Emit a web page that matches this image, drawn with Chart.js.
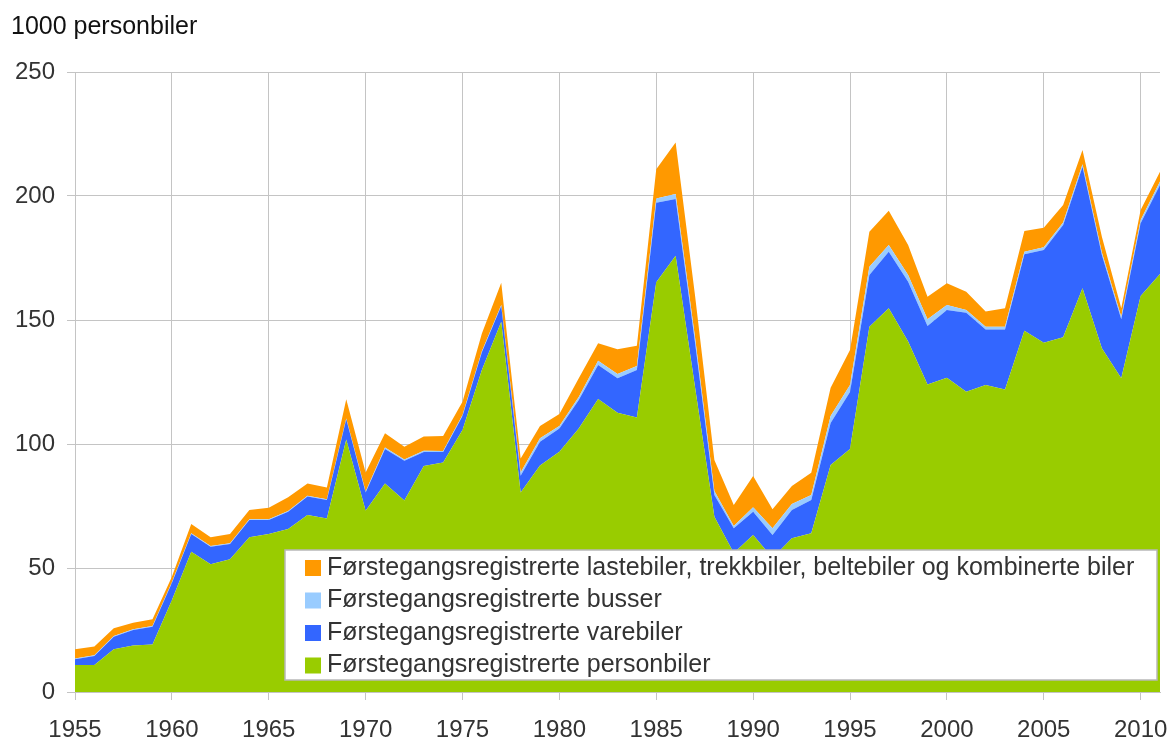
<!DOCTYPE html>
<html>
<head>
<meta charset="utf-8">
<title>Førstegangsregistrerte kjøretøy</title>
<script src="https://cdn.jsdelivr.net/npm/chart.js@4.4.1/dist/chart.umd.min.js"></script>
<style>
    body { margin: 0; background: #fff; }
    #wrap { width: 1169px; height: 738px; }
</style>
</head>
<body>
<div id="wrap"><canvas id="chart" width="1169" height="738"></canvas></div>
<script>
// Years on the x axis
const years = [];
for (let y = 1955; y <= 2011; y++) years.push(y);

const xTicks = [1955, 1960, 1965, 1970, 1975, 1980, 1985, 1990, 1995, 2000, 2005, 2010];
const yTicks = [0, 50, 100, 150, 200, 250];

// Values in 1000 vehicles (stacked from bottom)
const personbiler = [
    10.9, 10.9, 17.2, 18.7, 19.2, 37.0, 56.6, 51.5, 53.5, 62.4,
    63.7, 65.7, 71.4, 70.0, 101.8, 73.1, 84.1, 77.2, 91.1, 92.5,
    105.6, 129.8, 149.3, 80.4, 91.3, 96.9, 106.3, 118.1, 112.6, 110.7,
    165.2, 175.9, 123.0, 70.7, 56.0, 63.3, 54.0, 62.0, 64.0, 91.5,
    98.0, 147.3, 154.7, 141.3, 124.0, 126.7, 121.1, 123.8, 122.0, 145.7,
    140.8, 143.0, 162.8, 138.6, 126.5, 159.7, 168.5
];
const varebiler = [
    2.3, 3.6, 5.1, 6.3, 7.1, 7.0, 7.1, 7.1, 6.2, 7.0,
    5.7, 7.0, 7.4, 7.4, 8.2, 7.3, 13.9, 16.0, 5.7, 4.3,
    5.7, 7.2, 6.3, 6.8, 9.6, 9.4, 11.4, 13.8, 13.9, 19.1,
    32.1, 22.9, 18.0, 8.7, 10.0, 9.4, 9.3, 11.4, 13.4, 17.0,
    23.0, 20.8, 22.8, 24.1, 23.6, 27.3, 31.8, 22.4, 24.2, 30.8,
    37.4, 45.3, 49.0, 37.6, 23.8, 29.3, 35.9
];
const busser = [
    0.3, 0.3, 0.3, 0.3, 0.3, 0.3, 0.3, 0.3, 0.3, 0.3,
    0.3, 0.3, 0.3, 0.3, 0.3, 0.4, 0.6, 0.6, 0.5, 0.4,
    0.4, 0.4, 0.4, 1.3, 1.4, 1.0, 1.3, 1.7, 1.7, 1.7,
    1.7, 2.0, 2.0, 1.6, 0.9, 1.8, 2.7, 2.4, 2.0, 2.8,
    2.8, 3.4, 2.7, 2.7, 2.7, 2.0, 1.1, 1.1, 1.1, 1.0,
    1.1, 1.0, 1.0, 1.0, 1.0, 1.3, 1.4
];
const lastebiler = [
    3.7, 3.5, 3.1, 2.6, 2.7, 2.2, 3.7, 3.5, 3.7, 3.7,
    4.6, 5.5, 5.0, 4.8, 7.7, 7.7, 5.7, 5.1, 5.7, 6.0,
    5.3, 7.2, 9.0, 5.7, 5.0, 4.8, 7.5, 7.0, 10.0, 8.1,
    11.8, 20.8, 17.0, 12.5, 8.5, 12.6, 7.7, 7.3, 9.0, 11.4,
    14.1, 14.1, 13.9, 12.1, 9.1, 8.8, 7.4, 6.1, 7.4, 8.4,
    7.9, 7.1, 5.7, 6.4, 3.4, 4.1, 4.0
];

const seriesLabels = [
    'Førstegangsregistrerte personbiler',
    'Førstegangsregistrerte varebiler',
    'Førstegangsregistrerte busser',
    'Førstegangsregistrerte lastebiler, trekkbiler, beltebiler og kombinerte biler'
];
const seriesColors = ['#99CC00', '#3366FF', '#99CCFF', '#FF9900'];

const FONT = "'Liberation Sans', Arial, sans-serif";
const TEXT_COLOR = '#333333';
const GRID_COLOR = '#c4c4c4';

function toPoints(values) {
    return values.map((v, i) => ({ x: years[i], y: v }));
}

const allSeries = [personbiler, varebiler, busser, lastebiler];
const datasets = allSeries.map((vals, i) => ({
    label: seriesLabels[i],
    data: toPoints(vals),
    backgroundColor: seriesColors[i],
    borderColor: seriesColors[i],
    borderWidth: 0,
    pointRadius: 0,
    tension: 0,
    fill: i === 0 ? 'origin' : '-1'
}));

// Legend box drawn inside the plot, bottom right (top entry = top layer)
const boxLegend = {
    id: 'boxLegend',
    afterDatasetsDraw(chart) {
        const ctx = chart.ctx;
        const area = chart.chartArea;
        const left = area.left + 210;
        const right = area.right - 3;
        const bottom = area.bottom - 12;
        const top = bottom - 130;

        ctx.save();
        ctx.fillStyle = '#ffffff';
        ctx.fillRect(left, top, right - left, bottom - top);
        ctx.strokeStyle = '#b8b8b8';
        ctx.lineWidth = 1.5;
        ctx.strokeRect(left, top, right - left, bottom - top);

        ctx.font = '25px ' + FONT;
        ctx.textBaseline = 'middle';
        ctx.textAlign = 'left';
        for (let k = 0; k < 4; k++) {
            const idx = 3 - k;
            const cy = top + 18 + k * 32.5;
            ctx.fillStyle = seriesColors[idx];
            ctx.fillRect(left + 20, cy - 8, 16, 16);
            ctx.fillStyle = TEXT_COLOR;
            ctx.fillText(seriesLabels[idx], left + 42, cy);
        }
        ctx.restore();
    }
};

new Chart(document.getElementById('chart'), {
    type: 'line',
    data: { datasets: datasets },
    options: {
        responsive: false,
        animation: false,
        layout: { padding: { left: 11, right: 9, top: 12, bottom: 0 } },
        plugins: {
            legend: { display: false },
            tooltip: { enabled: false },
            title: {
                display: true,
                text: '1000 personbiler',
                align: 'start',
                color: '#111111',
                font: { family: FONT, size: 25, weight: 'normal' },
                padding: { top: 0, bottom: 30 }
            }
        },
        scales: {
            x: {
                type: 'linear',
                min: 1955,
                max: 2011,
                afterBuildTicks: (scale) => { scale.ticks = xTicks.map(v => ({ value: v })); },
                afterFit: (scale) => {
                    scale.height = 46;
                    scale.paddingLeft = 0;
                    scale.paddingRight = 0;
                },
                grid: { color: GRID_COLOR, tickLength: 8, lineWidth: 1 },
                border: { color: GRID_COLOR },
                ticks: {
                    color: TEXT_COLOR,
                    padding: 16,
                    maxRotation: 0,
                    font: { family: FONT, size: 24 },
                    callback: (v) => String(v)
                }
            },
            y: {
                stacked: true,
                min: 0,
                max: 250,
                afterBuildTicks: (scale) => { scale.ticks = yTicks.map(v => ({ value: v })); },
                afterFit: (scale) => { scale.width = 64; },
                grid: { color: GRID_COLOR, tickLength: 8, lineWidth: 1 },
                border: { color: GRID_COLOR },
                ticks: {
                    color: TEXT_COLOR,
                    padding: 12,
                    font: { family: FONT, size: 24 }
                }
            }
        }
    },
    plugins: [boxLegend]
});
</script>
</body>
</html>
